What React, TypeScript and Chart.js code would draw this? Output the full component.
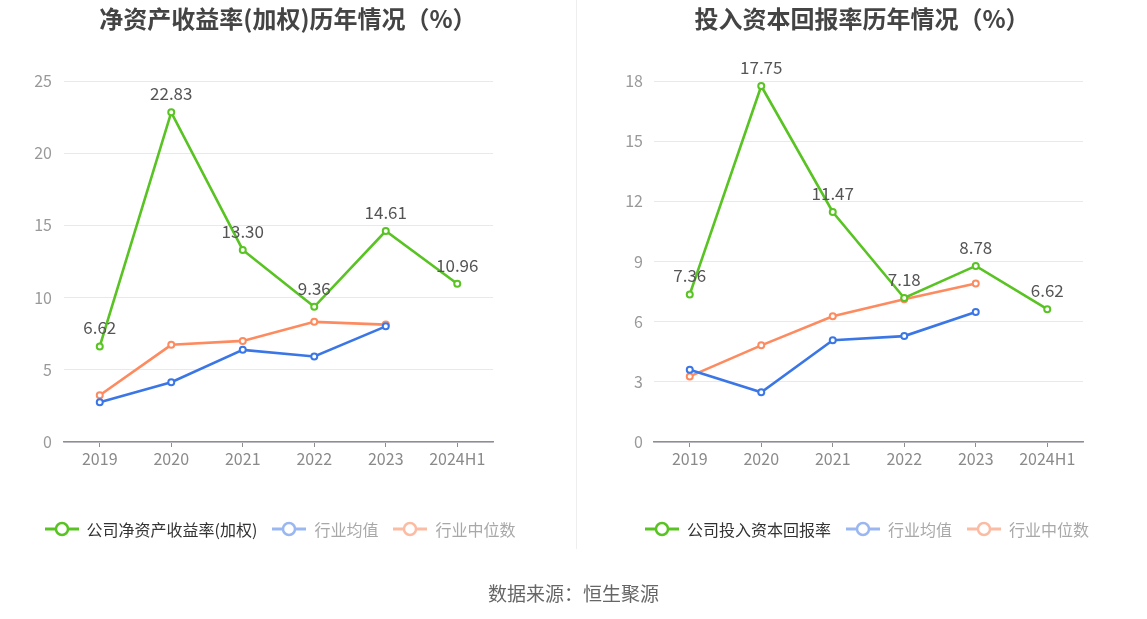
import React, { useEffect, useRef } from "react";
import { Chart, registerables } from "chart.js";

Chart.register(...registerables);

const CATEGORIES = ["2019", "2020", "2021", "2022", "2023", "2024H1"];
const ROE_COMPANY = [6.62, 22.83, 13.3, 9.36, 14.61, 10.96];
const ROE_IND_AVG = [2.75, 4.14, 6.38, 5.92, 8.01, null];
const ROE_IND_MED = [3.24, 6.73, 7.0, 8.32, 8.13, null];
const ROIC_COMPANY = [7.36, 17.75, 11.47, 7.18, 8.78, 6.62];
const ROIC_IND_AVG = [3.6, 2.48, 5.07, 5.28, 6.48, null];
const ROIC_IND_MED = [3.27, 4.82, 6.27, 7.12, 7.9, null];

const GREEN = "#58c322";
const BLUE = "#3b76e6";
const ORANGE = "#fd8b5f";
const FONT = "'Noto Sans CJK SC', 'Noto Sans', sans-serif";

const labelPlugin = {
  id: "greenLabels",
  afterDatasetsDraw(chart: any) {
    const ctx = chart.ctx;
    const meta = chart.getDatasetMeta(0);
    const data = chart.data.datasets[0].data;
    ctx.save();
    ctx.font = `17px ${FONT}`;
    ctx.fillStyle = "#555";
    ctx.textAlign = "center";
    ctx.textBaseline = "bottom";
    meta.data.forEach((pt: any, i: number) => {
      const v = data[i];
      if (v == null) return;
      ctx.fillText(Number(v).toFixed(2), pt.x, pt.y - 10);
    });
    ctx.restore();
  },
};

type PanelProps = {
  left: number;
  width: number;
  title: string;
  names: string[];
  company: (number | null)[];
  avg: (number | null)[];
  med: (number | null)[];
  yMax: number;
  step: number;
  areaLeft: number;
  areaRight: number;
  tickPad: number;
  legendShift: number;
};

function LegendIcon({ color }: { color: string }) {
  return (
    <svg width="34" height="16" style={{ display: "block" }}>
      <line x1="0" y1="8" x2="34" y2="8" stroke={color} strokeWidth="3" />
      <circle cx="17" cy="8" r="6" fill="#fff" stroke={color} strokeWidth="2.5" />
    </svg>
  );
}

function Panel(p: PanelProps) {
  const ref = useRef<HTMLCanvasElement>(null);
  useEffect(() => {
    const ds = (label: string, data: any[], color: string) => ({
      label,
      data,
      borderColor: color,
      backgroundColor: "#fff",
      borderWidth: 2.6,
      pointRadius: 3,
      pointBorderWidth: 2,
      pointBackgroundColor: "#fff",
      pointBorderColor: color,
      tension: 0,
      spanGaps: false,
    });
    const chart = new Chart(ref.current!, {
      type: "line",
      data: {
        labels: CATEGORIES,
        datasets: [
          ds(p.names[0], p.company, GREEN),
          ds(p.names[1], p.avg, BLUE),
          ds(p.names[2], p.med, ORANGE),
        ],
      },
      options: {
        responsive: false,
        animation: false,
        devicePixelRatio: 1,
        layout: {
          padding: { left: 0, right: p.width - p.areaRight, top: 81, bottom: 619 - 442 - 30 },
        },
        plugins: { legend: { display: false }, title: { display: false }, tooltip: { enabled: false } },
        scales: {
          x: {
            type: "category",
            offset: true,
            afterFit: (s: any) => {
              s.height = 30;
            },
            grid: {
              display: true,
              offset: false,
              drawOnChartArea: false,
              drawTicks: true,
              tickLength: 5,
              color: "#8e8e8e",
            },
            border: { display: true, color: "#8e8e8e", width: 1.5 },
            ticks: { color: "#8a8a8a", font: { size: 16, family: FONT }, padding: 2, autoSkip: false, maxRotation: 0 },
          },
          y: {
            min: 0,
            max: p.yMax,
            afterFit: (s: any) => {
              s.width = p.areaLeft;
            },
            grid: { color: "#e6e9f2", lineWidth: 1, drawTicks: false },
            border: { display: false },
            ticks: {
              stepSize: p.step,
              color: "#999",
              font: { size: 16, family: FONT },
              padding: p.tickPad,
            },
          },
        },
      },
      plugins: [labelPlugin],
    } as any);
    return () => chart.destroy();
  }, []);

  const legendColors = [GREEN, "#9ab7f2", "#fcbca4"];
  const legendText = ["#333", "#a8a8a8", "#a8a8a8"];
  return (
    <div style={{ position: "absolute", left: p.left, top: 0, width: p.width, height: 619 }}>
      <canvas ref={ref} width={p.width} height={619} style={{ position: "absolute", left: 0, top: 0, width: p.width, height: 619 }} />
      <div
        style={{
          position: "absolute",
          left: 0,
          top: 1,
          width: p.width,
          textAlign: "center",
          fontFamily: FONT,
          fontWeight: "bold",
          fontSize: 24,
          color: "#444",
          lineHeight: "34px",
        }}
      >
        {p.title}
      </div>
      <div
        style={{
          position: "absolute",
          left: p.legendShift,
          top: 516,
          width: p.width,
          display: "flex",
          justifyContent: "center",
          alignItems: "center",
          fontFamily: FONT,
          fontSize: 16,
          lineHeight: "26px",
        }}
      >
        {p.names.map((n, i) => (
          <div key={n} style={{ display: "flex", alignItems: "center", marginRight: i < 2 ? 15 : 0 }}>
            <LegendIcon color={legendColors[i]} />
            <span style={{ color: legendText[i], marginLeft: 8 }}>{n}</span>
          </div>
        ))}
      </div>
    </div>
  );
}

export default function App() {
  return (
    <div style={{ position: "absolute", left: 0, top: 0, width: 1147, height: 619, background: "#fff", overflow: "hidden" }}>
      <Panel
        left={0}
        width={576}
        title="净资产收益率(加权)历年情况（%）"
        names={["公司净资产收益率(加权)", "行业均值", "行业中位数"]}
        company={ROE_COMPANY}
        avg={ROE_IND_AVG}
        med={ROE_IND_MED}
        yMax={25}
        step={5}
        areaLeft={64}
        areaRight={493}
        tickPad={12}
        legendShift={-8}
      />
      <div style={{ position: "absolute", left: 576, top: 0, width: 1, height: 549, background: "#eeeeee" }} />
      <Panel
        left={577}
        width={570}
        title="投入资本回报率历年情况（%）"
        names={["公司投入资本回报率", "行业均值", "行业中位数"]}
        company={ROIC_COMPANY}
        avg={ROIC_IND_AVG}
        med={ROIC_IND_MED}
        yMax={18}
        step={3}
        areaLeft={77}
        areaRight={506}
        tickPad={11}
        legendShift={5}
      />
      <div
        style={{
          position: "absolute",
          left: 0,
          top: 578,
          width: 1147,
          textAlign: "center",
          fontFamily: FONT,
          fontSize: 19,
          color: "#666",
          lineHeight: "30px",
        }}
      >
        数据来源：恒生聚源
      </div>
    </div>
  );
}
